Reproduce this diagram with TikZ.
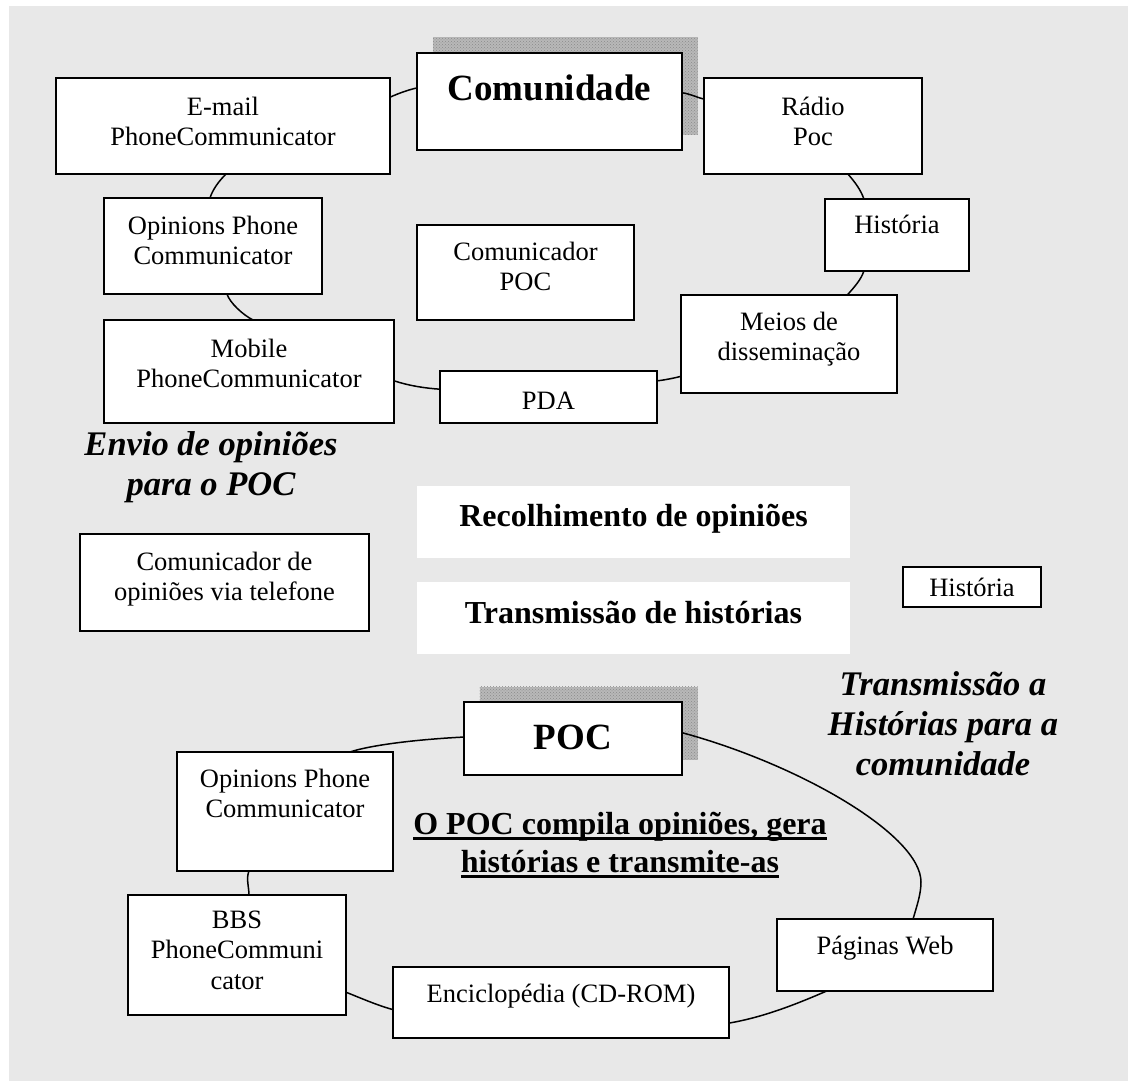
\documentclass[tikz,border=0pt]{standalone}
\usepackage{fontspec}
\setmainfont{Liberation Serif}
\usetikzlibrary{calc,shadows,patterns}
\definecolor{paper}{HTML}{E8E8E8}
\definecolor{shade}{HTML}{B8B8B8}
\definecolor{speck}{HTML}{8A8A8A}
% underline that runs close under the baseline
\newcommand\ulbox[1]{\setbox0\hbox{#1}\rlap{\rule[-5.5pt]{\wd0}{3pt}}\box0}
% framed box with its text: [opts]{name}{x1}{y1}{x2}{y2}{first baseline}{text}
\newcommand\mybox[8][]{%
  \node[boxst,#1,minimum width={(#5-#3)*1pt},minimum height={(#6-#4)*1pt}] (#2) at (#3,#4) {};
  \node[lbl] (#2-t) at ({(#3+#5)/2},#7) {\begin{tabular}[t]{@{}c@{}}#8\end{tabular}};
}
\begin{document}
\begin{tikzpicture}[x=1pt,y=-1pt,
  boxst/.style={draw,fill=white,line width=1.9pt,inner sep=0pt,outer sep=0pt,anchor=north west},
  plain/.style={draw=none},
  lbl/.style={inner sep=0pt,outer sep=0pt,anchor=base,font={\fontsize{26.5}{30.5}\selectfont}},
  title/.style={lbl,font={\fontsize{34.5}{40}\selectfont\bfseries\itshape}},
  link/.style={line width=1.5pt},
  shadowed/.style={general shadow={fill=shade,shadow xshift=15.5pt,shadow yshift=15.5pt,
    postaction={pattern=crosshatch dots,pattern color=speck}}}]
\useasboundingbox (0,0) rectangle (1128,1081);
\fill[paper] (9,6) rectangle (1128,1081);

% upper ring
\mybox{email}{56}{78}{390}{174}{115}{E-mail\\PhoneCommunicator}
\mybox[shadowed]{comm}{417}{53}{682}{150}{101}{\fontsize{37}{40}\selectfont\bfseries Comunidade}
\mybox{radio}{704}{78}{922}{174}{115}{Rádio\\Poc}
\mybox{histA}{825}{199}{969}{271}{233}{História}
\mybox{meios}{681}{295}{897}{393}{330}{Meios de\\disseminação}
\mybox{pda}{440}{371}{657}{423}{409}{PDA}
\mybox{mobile}{104}{320}{394}{423}{357}{Mobile\\PhoneCommunicator}
\mybox{optop}{104}{198}{322}{294}{234}{Opinions Phone\\Communicator}
\mybox{cpoc}{417}{225}{634}{320}{260}{Comunicador\\POC}

% middle band
\node[title] (envio) at (211,455) {\begin{tabular}[t]{@{}c@{}}Envio de opiniões\\para o POC\end{tabular}};
\mybox{ctel}{80}{534}{369}{631}{570}{Comunicador de\\opiniões via telefone}
\mybox[plain]{recol}{417}{486}{850}{558}{526}{\fontsize{32}{36}\selectfont\bfseries Recolhimento de opiniões}
\mybox[plain]{trans}{417}{582}{850}{654}{623}{\fontsize{32}{36}\selectfont\bfseries Transmissão de histórias}
\mybox{histB}{903}{567}{1041}{607}{596}{História}
\node[title] (tcom) at (943,695) {\begin{tabular}[t]{@{}c@{}}Transmissão a\\Histórias para a\\comunidade\end{tabular}};

% lower ring
\mybox[shadowed]{poc}{464}{702}{682}{775}{749}{\fontsize{37}{40}\selectfont\bfseries POC}
\mybox{opbot}{177}{752}{393}{871}{787}{Opinions Phone\\Communicator}
\mybox{bbs}{128}{895}{346}{1015}{928}{BBS\\PhoneCommuni\\cator}
\mybox{enc}{393}{967}{729}{1038}{1002}{Enciclopédia (CD-ROM)}
\mybox{pag}{777}{919}{993}{991}{954}{Páginas Web}
\node[lbl,font={\fontsize{32}{38}\selectfont\bfseries}] (compila) at (620,834)
  {\begin{tabular}[t]{@{}c@{}}\ulbox{O POC compila opiniões, gera}\\\ulbox{histórias e transmite-as}\end{tabular}};

% connectors of the upper ring
\draw[link] ($(email.north east)!0.2!(email.south east)$) .. controls +(9,-4) and +(-9,2) .. ($(comm.north west)!0.36!(comm.south west)$);
\draw[link] ($(comm.north east)!0.41!(comm.south east)$) .. controls +(8,1) and +(-8,-2) .. ($(radio.north west)!0.22!(radio.south west)$);
\draw[link] ($(radio.south west)!0.66!(radio.south east)$) .. controls +(7,8) and +(-3,-9) .. ($(histA.north west)!0.27!(histA.north east)$);
\draw[link] ($(histA.south west)!0.27!(histA.south east)$) .. controls +(-3,9) and +(7,-8) .. ($(meios.north west)!0.77!(meios.north east)$);
\draw[link] ($(meios.north west)!0.83!(meios.south west)$) .. controls +(-8,2) and +(8,-1) .. ($(pda.north east)!0.19!(pda.south east)$);
\draw[link] ($(pda.north west)!0.35!(pda.south west)$) .. controls +(-15,-1) and +(15,5) .. ($(mobile.north east)!0.59!(mobile.south east)$);
\draw[link] ($(mobile.north west)!0.514!(mobile.north east)$) .. controls +(-10,-5) and +(3,9) .. ($(optop.south west)!0.564!(optop.south east)$);
\draw[link] ($(optop.north west)!0.486!(optop.north east)$) .. controls +(3,-9) and +(-7,7) .. ($(email.south west)!0.509!(email.south east)$);

% connectors of the lower ring
\coordinate (arcturn) at (921,882);
\draw[link] ($(poc.north west)!0.48!(poc.south west)$) .. controls +(-40,2) and +(25,-8) .. ($(opbot.north west)!0.8!(opbot.north east)$);
\draw[link] ($(opbot.south west)!0.333!(opbot.south east)$) .. controls +(-3,8) and +(0,-8) .. ($(bbs.north west)!0.555!(bbs.north east)$);
\draw[link] ($(bbs.north east)!0.81!(bbs.south east)$) .. controls +(15,6) and +(-15,-4) .. ($(enc.north west)!0.6!(enc.south west)$);
\draw[link] ($(enc.north east)!0.79!(enc.south east)$) .. controls +(35,-6) and +(-30,13) .. ($(pag.south west)!0.23!(pag.south east)$);
\draw[link] ($(pag.north west)!0.63!(pag.north east)$) .. controls +(4,-14) and +(0,12) .. (arcturn)
  .. controls +(0,-47) and +(118,32) .. ($(poc.north east)!0.42!(poc.south east)$);
\end{tikzpicture}
\end{document}
